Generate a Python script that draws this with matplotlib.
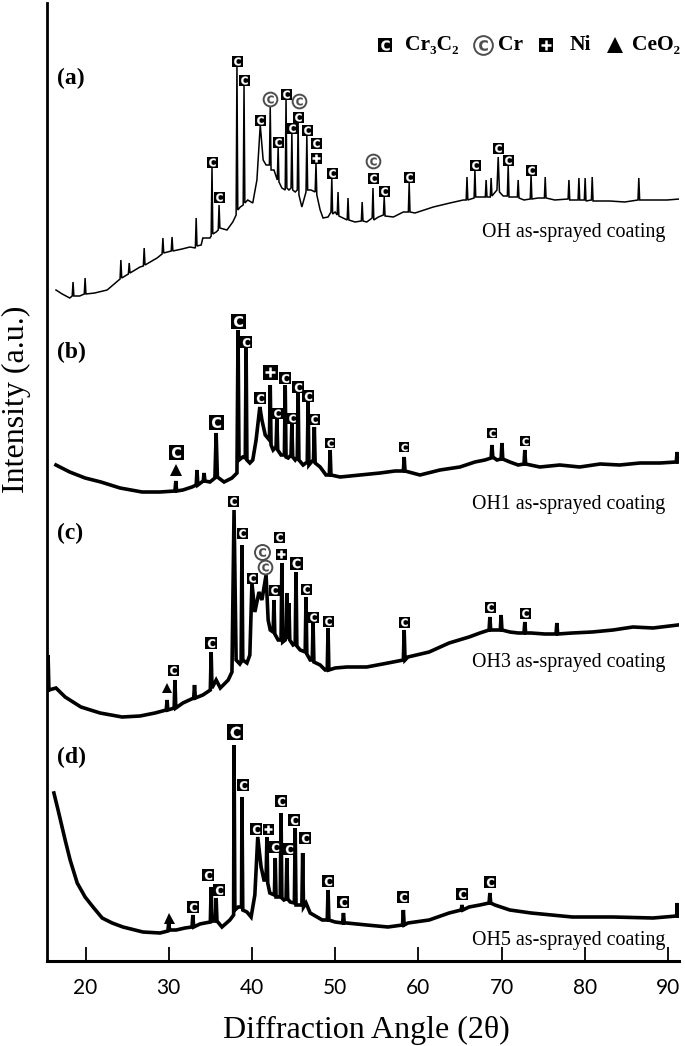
import matplotlib
matplotlib.use('Agg')
from matplotlib import pyplot as plt

plt.rcParams['font.family'] = ['Liberation Serif', 'DejaVu Serif']

# x ticks (2theta)
ticks = [20, 30, 40, 50, 60, 70, 80, 90]

# diffraction traces, (2theta, intensity a.u. above each trace's own floor)
trace_a = [
    (16.45, 10), (17.2, 6), (18.1, 2), (18.4, 4), (18.5, 18), (18.6, 4), (19.3, 4),
    (19.85, 6), (19.95, 22), (20.05, 6), (21.1, 7), (22.6, 10),
    (24.15, 21), (24.25, 40), (24.35, 22), (25.15, 26), (25.25, 37), (25.35, 27), (26.55, 33),
    (26.95, 34), (27.05, 52), (27.15, 35), (28.6, 42), (29.2, 46), (29.3, 62), (29.4, 47),
    (30.3, 49), (30.4, 63), (30.5, 49), (31.6, 51), (32.55, 53), (33.2, 52), (33.3, 82), (33.4, 54),
    (33.9, 55), (34.1, 62), (34.95, 62), (35.1, 64), (35.2, 133), (35.3, 66), (35.7, 68),
    (35.95, 70), (36.05, 95), (36.15, 72), (37.0, 70), (37.7, 78), (38.1, 85), (38.2, 235), (38.3, 90),
    (38.6, 93), (38.95, 95), (39.05, 215), (39.15, 97), (39.5, 100), (40.1, 97), (40.6, 120),
    (41.0, 175), (41.35, 140), (41.7, 135), (42.1, 135), (42.2, 193), (42.3, 130), (42.65, 130),
    (43.05, 120), (43.15, 153), (43.25, 118), (43.6, 112), (44.0, 110), (44.1, 202), (44.2, 112),
    (44.45, 110), (44.7, 112), (44.8, 167), (44.9, 110), (45.2, 108), (45.45, 110), (45.55, 178),
    (45.65, 105), (46.0, 93), (46.5, 108), (46.6, 165), (46.7, 110), (47.1, 110), (47.6, 108),
    (47.7, 137), (47.8, 105), (48.2, 90), (48.55, 82), (49.15, 83), (49.5, 88), (49.6, 122), (49.7, 86),
    (50.0, 88), (50.25, 85), (50.35, 108), (50.45, 84), (50.95, 82), (51.45, 80), (51.55, 102),
    (51.65, 80), (52.4, 78), (53.15, 79), (53.25, 98), (53.35, 79), (53.8, 78), (54.45, 82),
    (54.55, 112), (54.65, 80), (55.2, 83), (55.8, 85), (55.9, 103), (56.0, 84), (57.0, 83), (58.2, 88),
    (58.8, 88), (58.9, 117), (59.0, 88), (59.6, 87), (61.8, 93), (63.8, 97), (65.4, 100),
    (65.75, 100), (65.85, 123), (65.95, 100), (66.7, 102), (66.8, 130), (66.9, 103), (67.5, 103),
    (68.05, 103), (68.15, 120), (68.25, 103), (68.65, 103), (68.75, 122), (68.85, 104),
    (69.45, 110), (69.6, 143), (69.75, 108), (70.2, 104), (70.7, 104), (70.8, 135), (70.9, 103),
    (71.4, 103), (71.9, 103), (72.0, 120), (72.1, 102), (72.7, 100), (73.45, 101), (73.55, 125),
    (73.65, 101), (74.4, 102), (75.15, 102), (75.25, 123), (75.35, 102), (76.4, 100),
    (78.0, 101), (78.1, 120), (78.2, 100), (79.2, 100), (79.3, 122), (79.4, 100),
    (79.95, 100), (80.05, 122), (80.15, 99), (80.8, 100), (80.9, 123), (81.0, 99), (83.0, 99),
    (84.8, 98), (86.4, 100), (86.5, 122), (86.6, 100), (87.85, 100), (89.9, 100), (91.4, 101),
]

trace_b = [
    (16.45, 30), (18.1, 23), (19.95, 17), (21.85, 13), (24.15, 7), (26.8, 3), (28.95, 3),
    (30.75, 4), (30.85, 14), (30.95, 4), (31.7, 5), (32.8, 8),
    (33.3, 10), (33.4, 25), (33.5, 10), (34.15, 14), (34.25, 22), (34.35, 14), (34.95, 13),
    (35.55, 17), (35.7, 62), (35.85, 18), (36.65, 13), (37.6, 17),
    (38.2, 22), (38.33, 165), (38.45, 35), (38.9, 38), (39.2, 37), (39.3, 147), (39.4, 35),
    (39.75, 32), (40.1, 35), (40.5, 55), (40.95, 88), (41.2, 75), (41.6, 60),
    (42.1, 55), (42.2, 110), (42.3, 50), (42.55, 45), (42.9, 48), (43.0, 77), (43.1, 45), (43.5, 40),
    (43.9, 40), (44.0, 110), (44.1, 38), (44.35, 37), (44.7, 40), (44.8, 72), (44.9, 38), (45.2, 35),
    (45.45, 38), (45.55, 102), (45.65, 35), (46.15, 30), (46.65, 33), (46.75, 95), (46.85, 30),
    (47.15, 33), (47.4, 35), (47.5, 68), (47.6, 32), (48.2, 28), (48.9, 20), (49.3, 20), (49.4, 45),
    (49.5, 20), (50.6, 18), (53.0, 20), (55.4, 22), (57.2, 24), (58.2, 24), (58.3, 38), (58.4, 24),
    (60.2, 20), (62.6, 25), (65.0, 28), (66.8, 33), (68.0, 35), (68.75, 37), (68.85, 50), (68.95, 38),
    (69.45, 35), (69.95, 36), (70.05, 52), (70.15, 36), (71.0, 33), (72.0, 30), (72.7, 31),
    (72.8, 45), (72.9, 31), (74.6, 28), (77.0, 30), (79.4, 28), (81.85, 31), (84.2, 30),
    (86.65, 32), (89.05, 32), (91.0, 33), (91.1, 43), (91.2, 33),
]

trace_c = [
    (15.45, 30), (15.5, 65), (15.6, 30), (16.45, 32), (17.55, 23), (19.45, 13), (21.75, 7),
    (24.4, 3), (26.55, 4), (28.35, 7), (29.7, 10), (29.8, 20), (29.9, 10), (30.65, 12),
    (30.75, 40), (30.85, 12), (31.7, 17), (33.0, 22), (33.1, 35), (33.2, 22), (34.1, 25),
    (35.0, 30), (35.1, 68), (35.2, 32), (35.7, 40), (36.2, 32), (37.15, 40), (37.6, 48),
    (37.85, 210), (38.1, 60), (38.55, 56), (38.7, 58), (38.8, 175), (38.9, 60), (39.4, 57),
    (39.75, 65), (40.0, 137), (40.35, 108), (40.85, 128), (41.2, 120), (41.7, 145), (41.95, 100),
    (42.2, 90), (42.55, 88), (42.65, 120), (42.75, 86), (43.15, 80), (43.5, 80), (43.6, 157),
    (43.7, 78), (44.0, 80), (44.1, 82), (44.2, 127), (44.3, 82), (44.4, 85), (44.45, 117),
    (44.55, 80), (44.95, 75), (45.2, 76), (45.3, 148), (45.4, 74), (45.8, 70), (46.4, 68),
    (46.5, 123), (46.6, 66), (47.0, 60), (47.25, 60), (47.35, 97), (47.45, 58), (48.2, 55),
    (48.8, 50), (49.05, 50), (49.15, 92), (49.25, 50), (50.0, 52), (51.4, 53), (53.8, 53),
    (56.35, 57), (58.2, 60), (58.3, 90), (58.4, 60), (58.75, 63), (61.3, 68), (63.7, 77),
    (66.1, 83), (67.4, 87), (68.5, 90), (68.6, 103), (68.7, 90), (69.2, 90), (69.85, 90),
    (69.95, 105), (70.05, 90), (71.0, 88), (72.0, 87), (72.7, 87), (72.8, 98), (72.9, 87),
    (73.55, 87), (75.2, 86), (76.55, 86), (76.65, 97), (76.75, 86), (78.5, 87), (80.9, 88),
    (83.4, 90), (85.8, 93), (88.2, 92), (91.2, 95),
]

trace_d = [
    (16.2, 142), (16.7, 125), (17.55, 95), (18.15, 75), (19.0, 52), (19.95, 38), (20.9, 28),
    (22.0, 17), (23.2, 12), (24.5, 8), (26.9, 3), (28.95, 2), (29.9, 4), (30.0, 13), (30.1, 5),
    (30.9, 5), (31.95, 7), (32.8, 8), (32.9, 20), (33.0, 8), (33.75, 11), (34.35, 12),
    (35.0, 13), (35.1, 48), (35.2, 14), (35.35, 14), (35.6, 14), (35.7, 37), (35.8, 14),
    (36.4, 8), (37.35, 15), (37.8, 20), (37.85, 190), (37.95, 25), (38.35, 28), (38.75, 28),
    (38.8, 138), (38.9, 25), (39.4, 23), (39.9, 18), (40.35, 40), (40.7, 98), (41.1, 68),
    (41.45, 55), (41.7, 55), (41.8, 98), (41.9, 52), (42.15, 42), (42.7, 40), (42.8, 77),
    (42.9, 38), (43.15, 38), (43.4, 38), (43.5, 122), (43.6, 37), (43.85, 35), (44.1, 36),
    (44.2, 77), (44.3, 36), (44.6, 33), (45.1, 32), (45.2, 107), (45.3, 30), (45.65, 30),
    (46.0, 30), (46.1, 82), (46.2, 28), (46.5, 32), (47.0, 22), (48.45, 15), (49.05, 15),
    (49.15, 45), (49.25, 15), (50.0, 13), (50.9, 12), (51.0, 22), (51.1, 12), (51.4, 12),
    (53.8, 10), (56.35, 8), (58.1, 10), (58.2, 25), (58.3, 10), (58.75, 12), (61.3, 15),
    (63.7, 22), (65.15, 25), (65.25, 30), (65.35, 25), (66.1, 28), (67.4, 30), (68.5, 32),
    (68.6, 42), (68.7, 32), (69.2, 30), (71.0, 25), (73.55, 22), (78.5, 18), (83.4, 18),
    (88.2, 17), (91.05, 19), (91.1, 32), (91.2, 19),
]

# phase marks: C = Cr3C2, R = Cr, N = Ni, T = CeO2
mark_kind_a = ['C', 'C', 'C', 'C', 'C', 'R', 'C', 'C', 'C', 'C', 'R', 'C', 'C', 'N',
               'C', 'C', 'R', 'C', 'C', 'C', 'C', 'C', 'C']
mark_pos_a = [35.2, 36.05, 38.2, 39.05, 41.0, 42.2, 43.15, 44.1, 44.8, 45.55, 45.6, 46.6,
              47.7, 47.7, 49.6, 54.55, 54.55, 55.9, 58.9, 66.8, 69.6, 70.8, 73.55]
mark_int_a = [138, 103, 239, 220, 180, 201, 158, 206, 172, 183, 199, 170,
              157, 142, 127, 122, 139, 109, 123, 135, 152, 140, 130]

mark_kind_b = ['T', 'C', 'C', 'C', 'C', 'C', 'N', 'C', 'C', 'C', 'C', 'C', 'C',
               'C', 'C', 'C', 'C']
mark_pos_b = [30.85, 30.85, 35.7, 38.33, 39.3, 41.0, 42.2, 43.0, 44.0, 44.8, 45.55, 46.75,
              47.5, 49.4, 58.3, 68.85, 72.8]
mark_int_b = [25, 43, 73, 174, 153, 97, 123, 82, 117, 77, 108, 99, 76, 52, 48, 62, 54]

mark_kind_c = ['T', 'C', 'C', 'C', 'C', 'C', 'R', 'R', 'C', 'N', 'C', 'C', 'C', 'C',
               'C', 'C', 'C', 'C']
mark_pos_c = [29.8, 30.5, 35.1, 37.75, 38.8, 40.0, 41.2, 41.6, 43.25, 43.5, 42.65, 45.3,
              46.5, 47.35, 49.15, 58.3, 68.6, 72.8]
mark_int_c = [32, 50, 77, 219, 187, 142, 168, 153, 183, 166, 130, 157,
              131, 103, 99, 98, 113, 107]

mark_kind_d = ['T', 'C', 'C', 'C', 'C', 'C', 'C', 'N', 'C', 'C', 'C', 'C', 'C',
               'C', 'C', 'C', 'C', 'C']
mark_pos_d = [30.0, 32.9, 34.7, 36.05, 37.95, 38.9, 40.5, 41.95, 42.8, 43.5, 44.45, 45.05,
              46.4, 49.15, 50.95, 58.15, 65.25, 68.6]
mark_int_d = [17, 28, 60, 45, 203, 150, 106, 106, 88, 134, 86, 115,
              97, 54, 33, 38, 41, 53]

panel_names = ['(a)', '(b)', '(c)', '(d)']
sample_names = ['OH as-sprayed coating', 'OH1 as-sprayed coating',
                'OH3 as-sprayed coating', 'OH5 as-sprayed coating']
legend_names = ['Cr\u2083C\u2082', 'Cr', 'Ni', 'CeO\u2082']
legend_kinds = ['C', 'R', 'N', 'T']

# layout / style (pixels of the 685x1046 canvas)
offsets = [661, 466, 241, 26]
line_widths = [1.1, 2.6, 2.6, 2.6]
mark_px = [
    [11] * 23,
    [12, 15, 15, 15, 12, 12, 15, 11, 12, 11, 12, 12, 11, 10, 10, 10, 10],
    [10, 11, 12, 11, 11, 11, 12, 11, 11, 11, 11, 13, 11, 11, 11, 11, 11, 11],
    [11, 12, 12, 12, 16, 12, 12, 11, 12, 12, 12, 12, 12, 12, 12, 12, 12, 12],
]
panel_y = [883, 609, 428, 204]
sample_y = [729, 457, 298, 21]


def draw_mark(ax, kind, x, y, px, **kw):
    ms = px * 0.72
    if kind == 'C':
        ax.plot(x, y, 's', ms=ms, color='black', mew=0, zorder=5, **kw)
        ax.plot(x, y, marker=r'$\mathbf{C}$', ms=ms * 0.72, color='white', mew=0.2,
                zorder=6, **kw)
    elif kind == 'N':
        ax.plot(x, y, 's', ms=ms, color='black', mew=0, zorder=5, **kw)
        ax.plot(x, y, '+', ms=ms * 0.65, color='white', mew=1.8, zorder=6, **kw)
    elif kind == 'R':
        ax.plot(x, y, 'o', ms=ms * 1.25, mfc='white', mec='0.3', mew=1.4, zorder=5, **kw)
        ax.plot(x, y, marker=r'$\mathbf{C}$', ms=ms * 0.7, color='0.3', mew=0.2,
                zorder=6, **kw)
    else:
        ax.plot(x, y, '^', ms=ms, color='black', mew=0, zorder=5, **kw)


fig = plt.figure(figsize=(6.85, 10.46), dpi=100)
ax = fig.add_axes([47 / 685, 85 / 1046, 632 / 685, 958 / 1046])

traces = [trace_a, trace_b, trace_c, trace_d]
marks = [(mark_kind_a, mark_pos_a, mark_int_a), (mark_kind_b, mark_pos_b, mark_int_b),
         (mark_kind_c, mark_pos_c, mark_int_c), (mark_kind_d, mark_pos_d, mark_int_d)]

for i, tr in enumerate(traces):
    xs = [p[0] for p in tr]
    ys = [p[1] + offsets[i] for p in tr]
    ax.plot(xs, ys, color='black', lw=line_widths[i], solid_joinstyle='miter', zorder=3)
    kinds, pos, hts = marks[i]
    for k, x, h, s in zip(kinds, pos, hts, mark_px[i]):
        draw_mark(ax, k, x, h + offsets[i], s)
    ax.text(16.55, panel_y[i], panel_names[i], fontsize=17, fontweight='bold',
            ha='left', va='center')
    ax.text(89.65, sample_y[i], sample_names[i], fontsize=14.4, ha='right', va='center')

# legend row at the top
leg_mark_x = [0.5348, 0.6899, 0.7896, 0.8987]
leg_text_x = [0.5665, 0.7136, 0.8275, 0.9256]
leg_size = [14, 15, 14, 16]
for k, name, mx, tx, s in zip(legend_kinds, legend_names, leg_mark_x, leg_text_x, leg_size):
    draw_mark(ax, k, mx, 0.956, s, transform=ax.transAxes, clip_on=False)
    ax.text(tx, 0.956, name, transform=ax.transAxes, fontsize=15.5, fontweight='bold',
            ha='left', va='center')

ax.set_xlim(15.37, 91.33)
ax.set_ylim(0, 958)
ax.set_xticks(ticks)
ax.set_yticks([])
ax.tick_params(axis='x', direction='in', length=10, width=1.3, pad=12)
for lab in ax.get_xticklabels():
    lab.set_fontfamily('Lato')
    lab.set_fontsize(15)
ax.spines['top'].set_visible(False)
ax.spines['right'].set_visible(False)
ax.spines['left'].set_linewidth(2.0)
ax.spines['bottom'].set_linewidth(2.2)

fig.text(366 / 685, 1 - 1030 / 1046, 'Diffraction Angle (2\u03b8)', fontsize=23,
         ha='center', va='center')
fig.text(16 / 685, 1 - 399 / 1046, 'Intensity (a.u.)', fontsize=23, rotation=90,
         ha='center', va='center')

fig.savefig('out.png', dpi=100)
